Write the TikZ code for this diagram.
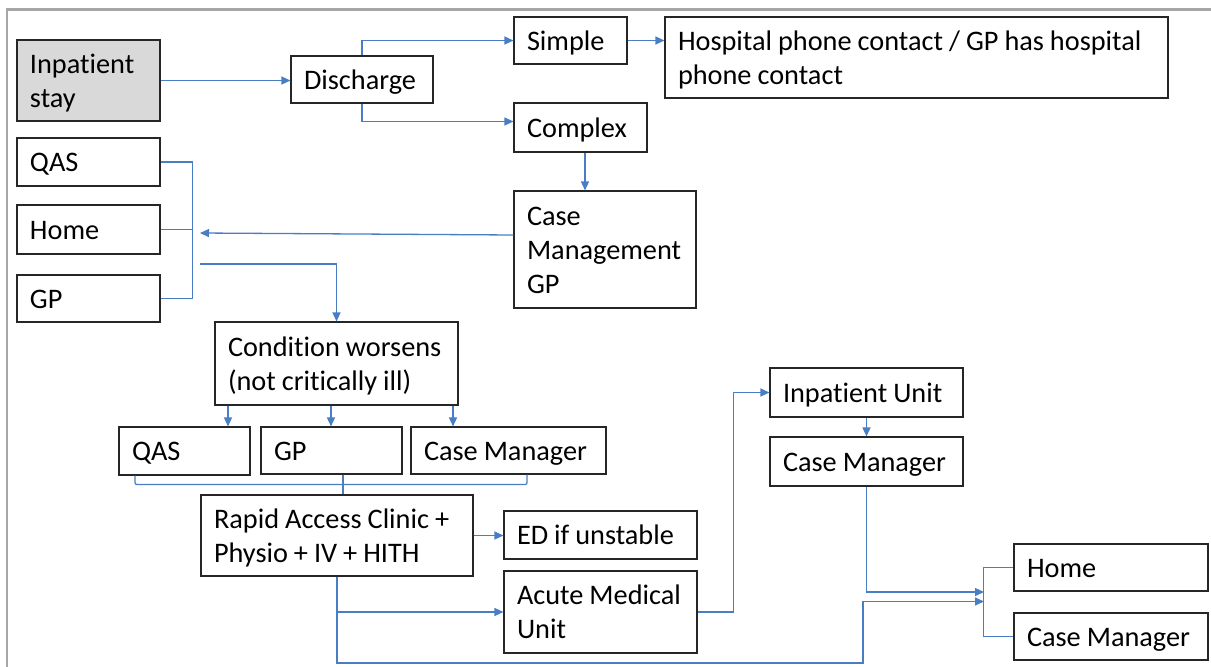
\documentclass[tikz,border=0pt]{standalone}
\usepackage{fontspec}
\setmainfont{Carlito}[Ligatures=NoCommon]
\usetikzlibrary{arrows.meta}
\definecolor{conn}{HTML}{4A7EC4}
\definecolor{framegray}{HTML}{A6A6A6}
\definecolor{shade}{HTML}{D9D9D9}
\definecolor{edge}{HTML}{262626}
% box from its corners: [options]{name}{x1}{y1}{x2}{y2}{text}
\newcommand\flowbox[7][]{%
  \pgfmathsetmacro\fbw{#5-#3}%
  \pgfmathsetmacro\fbh{#6-#4}%
  \pgfmathsetmacro\fbt{#5-#3-26}%
  \node[box,#1,minimum width=\fbw pt,minimum height=\fbh pt,text width=\fbt pt]
    (#2) at ({(#3+#5)/2},{(#4+#6)/2})
    {\spaceskip=6pt\relax
     \raisebox{-3pt}[\height][\depth]{\begin{tabular}{@{}l@{}}#7\end{tabular}}};}
\begin{document}
\begin{tikzpicture}[x=1pt,y=-1pt,
  box/.style={draw=edge,line width=1.1pt,fill=white,align=left,
    inner xsep=13pt,inner ysep=0pt,font=\fontsize{28.3}{34}\selectfont},
  link/.style={draw=conn,line width=1.3pt},
  arr/.style={link,-{Triangle[length=9pt,width=8pt]}}]
\useasboundingbox (0,0) rectangle (1211,667);
% outer frame
\draw[framegray,line width=2.5pt] (7,667) -- (7,9.5) -- (1211,9.5);

% top row
\flowbox[fill=shade]{inpatient}{17}{40}{160}{121}{Inpatient\\stay}
\flowbox{discharge}{291}{56}{433}{103}{Discharge}
\flowbox{simple}{514}{17}{627}{64}{Simple}
\flowbox{hospital}{665}{17}{1168}{98}{Hospital phone contact / GP has hospital\\phone contact}
\flowbox{complex}{514}{103}{647}{152}{Complex}
\flowbox{cmgp}{514}{191}{696}{308}{Case\\Management\\GP}

% left column
\flowbox{qas}{17}{138}{160}{186}{QAS}
\flowbox{home}{17}{205}{160}{254}{Home}
\flowbox{gp}{17}{275}{160}{322}{GP}

% worsening branch
\flowbox{cond}{215}{322}{458}{405}{Condition worsens\\(not critically ill)}
\flowbox{qasb}{119}{427}{250}{475}{QAS}
\flowbox{gpb}{261}{427}{402}{474}{GP}
\flowbox{cmb}{411}{427}{606}{474}{Case Manager}
\flowbox{rapid}{201}{495}{473}{576}{Rapid Access Clinic +\\Physio + IV + HITH}
\flowbox{ed}{504}{511}{697}{559}{ED if unstable}
\flowbox{amu}{504}{571}{697}{653}{Acute Medical\\Unit}

% inpatient unit branch
\flowbox{iu}{770}{368}{963}{417}{Inpatient Unit}
\flowbox{cmc}{770}{437}{963}{486}{Case Manager}

% outcomes
\flowbox{homeb}{1014}{544}{1208}{591}{Home}
\flowbox{cmd}{1014}{613}{1208}{660}{Case Manager}

% free ends
\coordinate (backin) at (200,233);
\coordinate (loopout) at (200,264);
\coordinate (low) at (863,663);
\coordinate (rjA) at (984,592);
\coordinate (rjB) at (984,601.5);

% discharge paths
\draw[arr] (inpatient.east) -- (inpatient.east -| discharge.west);
\draw[arr] (discharge.north) |- (simple.west);
\draw[arr] (discharge.south) |- ([yshift=6pt]complex.west);
\draw[arr] (simple.east) -- (simple.east -| hospital.west);
\draw[arr] ([xshift=4.5pt]complex.south) -- ([xshift=4.5pt]complex.south |- cmgp.north);
\draw[arr] ([yshift=14.5pt]cmgp.west) -- (backin);

% community options bracket
\draw[link] (qas.east) -- ++(32,0) |- (gp.east);
\draw[link] (home.east) -- ++(32,0);
\draw[arr] (loopout) -| (cond.north);

% condition worsens
\draw[arr] ([xshift=-108.5pt]cond.south) -- ([xshift=-108.5pt]cond.south |- qasb.north);
\draw[arr] ([xshift=-5.5pt]cond.south) -- ([xshift=-5.5pt]cond.south |- gpb.north);
\draw[arr] ([xshift=116.5pt]cond.south) -- ([xshift=116.5pt]cond.south |- cmb.north);
\draw[link,rounded corners=2pt] ([xshift=-49.5pt]qasb.south) -- ++(0,9) -| ([xshift=18.5pt]cmb.south);
\draw[link] ([xshift=11.5pt]gpb.south) -- ([xshift=11.5pt]gpb.south |- rapid.north);

% rapid access outcomes
\draw[arr] (rapid.east) -- (rapid.east -| ed.west);
\draw[arr] (rapid.south) |- (amu.west);
\draw[arr] (rapid.south) |- (low) |- (rjB);
\draw[arr] (amu.east) -- ++(36,0) |- (iu.west);
\draw[arr] (iu.south) -- (cmc.north);
\draw[arr] (cmc.south) |- (rjA);

% outcome bracket
\draw[link] (homeb.west) -- ++(-30,0) |- (cmd.west);
\end{tikzpicture}
\end{document}
